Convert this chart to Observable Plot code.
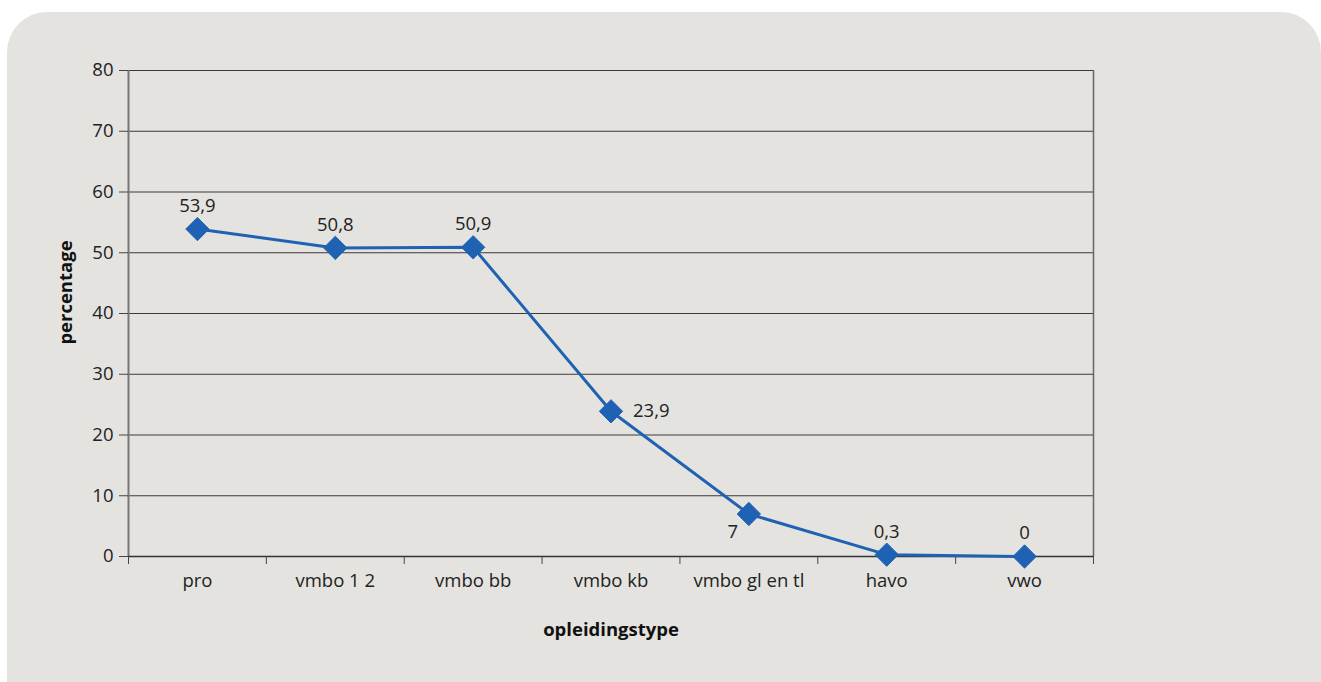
<!DOCTYPE html>
<html>
<head>
<meta charset="utf-8">
<script src="https://cdn.jsdelivr.net/npm/d3@7"></script>
<script src="https://cdn.jsdelivr.net/npm/@observablehq/plot@0.6"></script>
<style>
  html, body { margin: 0; padding: 0; background: #ffffff; }
  #wrap { position: relative; width: 1321px; height: 682px; overflow: hidden; }
  #bg { position: absolute; left: 7px; top: 12px; width: 1314px; height: 670px;
        background: #e4e3df; border-radius: 40px 40px 0 0; }
  #chart { position: absolute; left: 0; top: 0; }
</style>
</head>
<body>
<div id="wrap"><div id="bg"></div><div id="chart"></div></div>
<script>
const categories = ["pro", "vmbo 1 2", "vmbo bb", "vmbo kb", "vmbo gl en tl", "havo", "vwo"];
const values = [53.9, 50.8, 50.9, 23.9, 7, 0.3, 0];
const yTicks = [0, 10, 20, 30, 40, 50, 60, 70, 80];
const xTitle = "opleidingstype";
const yTitle = "percentage";

const data = categories.map((c, i) => ({cat: c, i, pos: i + 0.5, value: values[i], label: String(values[i]).replace(".", ",")}));
const rightLabels = new Set(["vmbo kb"]);
const belowLeftLabels = new Set(["vmbo gl en tl"]);
const blue = "#1f62b3";
const font = "'Open Sans', sans-serif";
const fs = 18.5;

const chart = Plot.plot({
  width: 1321,
  height: 682,
  marginLeft: 128,
  marginRight: 228,
  marginTop: 70,
  marginBottom: 126,
  style: {background: "transparent", fontFamily: font, fontSize: fs + "px", color: "#222"},
  x: {domain: [0, categories.length], label: null},
  y: {domain: [0, 80], label: null},
  marks: [
    Plot.ruleY(yTicks.filter(t => t > 0), {stroke: "#3a3a3a", strokeWidth: 1}),
    Plot.ruleX([categories.length], {stroke: "#666", strokeWidth: 1.5}),
    Plot.ruleX([0], {stroke: "#777", strokeWidth: 2}),
    Plot.ruleY([0], {stroke: "#333", strokeWidth: 1.5}),
    Plot.axisY({ticks: yTicks, tickSize: 9, tickPadding: 6, fontSize: fs, stroke: "#444", fill: "#222", label: null}),
    Plot.axisX({ticks: d3.range(0, categories.length + 1), tickSize: 8, tickFormat: () => "", stroke: "#444", label: null}),
    Plot.axisX({ticks: data.map(d => d.pos), tickSize: 0, tickPadding: 17, fontSize: fs, fill: "#222", tickFormat: (t) => categories[Math.floor(t)], label: null}),
    Plot.text([xTitle], {frameAnchor: "bottom", dy: 79, fontWeight: "bold", fontSize: fs, fill: "#111"}),
    Plot.text([yTitle], {frameAnchor: "left", textAnchor: "middle", dx: -62, dy: -21, rotate: -90, fontWeight: "bold", fontSize: fs, fill: "#111"}),
    Plot.line(data, {x: "pos", y: "value", stroke: blue, strokeWidth: 3}),
    Plot.dot(data, {x: "pos", y: "value", symbol: "diamond2", r: 10.5, fill: blue, stroke: blue, strokeWidth: 1}),
    Plot.text(data.filter(d => !rightLabels.has(d.cat) && !belowLeftLabels.has(d.cat)), {x: "pos", y: "value", text: "label", dy: -23, fontSize: fs, fill: "#222"}),
    Plot.text(data.filter(d => rightLabels.has(d.cat)), {x: "pos", y: "value", text: "label", dx: 22, textAnchor: "start", fontSize: fs, fill: "#222"}),
    Plot.text(data.filter(d => belowLeftLabels.has(d.cat)), {x: "pos", y: "value", text: "label", dx: -16, dy: 18, fontSize: fs, fill: "#222"})
  ]
});
document.getElementById("chart").appendChild(chart);
</script>
</body>
</html>
